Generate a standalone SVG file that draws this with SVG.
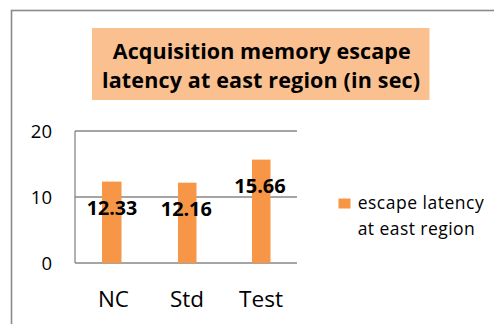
<svg xmlns="http://www.w3.org/2000/svg" width="494" height="324" viewBox="0 0 494 324">
  <style>
    .t { font-family: "Open Sans", "Liberation Sans", Arial, sans-serif; fill: #000; }
    .title { font-size: 21.5px; font-weight: bold; text-anchor: middle; }
    .ax { font-size: 18.5px; text-anchor: end; }
    .cat { font-size: 21px; text-anchor: middle; }
    .val { font-size: 19px; font-weight: bold; text-anchor: middle; }
    .leg { font-size: 17.5px; }
    .grid { stroke: #878787; stroke-width: 1.3; fill: none; }
    .bar { fill: #F79646; }
  </style>
  <rect x="0" y="0" width="494" height="324" fill="#fff"/>
  <rect x="11.5" y="10.5" width="500" height="330" fill="#fff" stroke="#8a8a8a" stroke-width="1.6"/>

  <g id="title">
    <rect x="92" y="28" width="337.5" height="72" fill="#FAC090"/>
    <text class="t title" x="261.7" y="59.3" textLength="298" lengthAdjust="spacing">Acquisition memory escape</text>
    <text class="t title" x="261" y="87.5" textLength="318" lengthAdjust="spacing">latency at east region (in sec)</text>
  </g>

  <g id="axes">
    <line class="grid" x1="75" y1="131" x2="297" y2="131"/>
    <line class="grid" x1="75" y1="197" x2="297" y2="197"/>
    <line class="grid" x1="75" y1="263" x2="297" y2="263"/>
    <line class="grid" x1="75" y1="131" x2="75" y2="263"/>
    <text class="t ax" x="52" y="138">20</text>
    <text class="t ax" x="52" y="204">10</text>
    <text class="t ax" x="52" y="270">0</text>
  </g>

  <g id="bars">
    <rect class="bar" x="102" y="181.6" width="19.5" height="81.4"/>
    <rect class="bar" x="178" y="182.7" width="18.5" height="80.3"/>
    <rect class="bar" x="252" y="159.6" width="18.5" height="103.4"/>
  </g>

  <g id="values">
    <text class="t val" x="112" y="215" textLength="50.5" lengthAdjust="spacingAndGlyphs">12.33</text>
    <text class="t val" x="186.3" y="216" textLength="51" lengthAdjust="spacingAndGlyphs">12.16</text>
    <text class="t val" x="260" y="192.7" textLength="51.5" lengthAdjust="spacingAndGlyphs">15.66</text>
  </g>

  <g id="categories">
    <text class="t cat" x="113.5" y="306.7" textLength="31" lengthAdjust="spacingAndGlyphs">NC</text>
    <text class="t cat" x="187" y="306.7" textLength="34" lengthAdjust="spacingAndGlyphs">Std</text>
    <text class="t cat" x="261" y="306.7" textLength="44" lengthAdjust="spacingAndGlyphs">Test</text>
  </g>

  <g id="legend">
    <rect class="bar" x="338.5" y="198.5" width="12" height="10"/>
    <text class="t leg" x="357.7" y="209" textLength="126" lengthAdjust="spacing">escape latency</text>
    <text class="t leg" x="357.7" y="235" textLength="117" lengthAdjust="spacing">at east region</text>
  </g>
</svg>
